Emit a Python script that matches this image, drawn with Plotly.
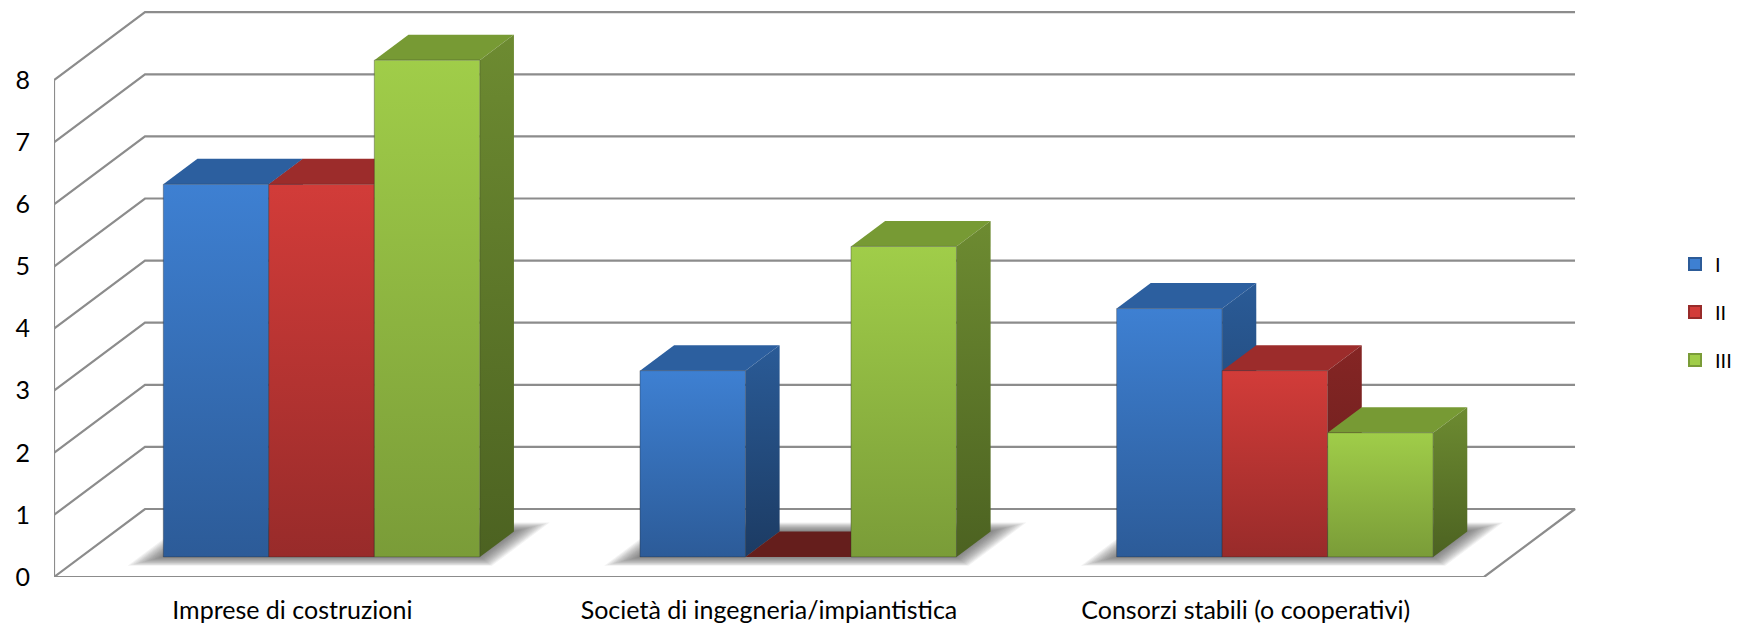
import plotly.graph_objects as go

categories = ["Imprese di costruzioni", "Società di ingegneria/impiantistica", "Consorzi stabili (o cooperativi)"]
series_names = ["I", "II", "III"]
values_I = [6, 3, 4]
values_II = [6, 0, 3]
values_III = [8, 5, 2]
y_ticks = [0, 1, 2, 3, 4, 5, 6, 7, 8]

series_values = [values_I, values_II, values_III]
FRONT = ["#3e80d2", "#d23c39", "#a0cd49"]
FRONT_LOW = ["#2c5b98", "#982b2a", "#7a9c38"]
TOP = ["#2c5f9f", "#9c2c2b", "#779a34"]
SIDE = ["#2a5b97", "#852524", "#6d8b31"]
SIDE_LOW = ["#1c3b63", "#641e1c", "#4c6221"]
ZERO_TOP = ["#1f406b", "#651e1c", "#4f6622"]
GRID = "#8c8c8c"
FONT = "Lato"

PX_X, PX_Y = 476.67, 62.1          # pixels per category / per unit
DX, DY = 91 / PX_X, 68 / PX_Y      # full-depth oblique offset, axis units
BAR_D0, BAR_D1 = 0.295, 0.67       # bar front/back depth
GROUP = 0.664
BAR_W = GROUP / 3
LEFT_PAD = (1 - GROUP) / 2 + 0.005


def proj(x, d, v):
    return x + d * DX, v + d * DY


def poly(pts):
    xs, ys = zip(*[proj(*p) for p in pts + pts[:1]])
    return list(xs), list(ys)


fig = go.Figure()


def line(pts):
    xs, ys = zip(*[proj(*p) for p in pts])
    fig.add_trace(go.Scatter(x=list(xs), y=list(ys), mode="lines", line=dict(color=GRID, width=2.2),
                             showlegend=False, hoverinfo="skip"))


def face(pts, color, low=None, outline=None):
    xs, ys = poly(pts)
    kw = dict(fillcolor=color)
    if low:
        kw = dict(fillgradient=dict(type="vertical", colorscale=[[0, low], [1, color]]))
    fig.add_trace(go.Scatter(x=xs, y=ys, mode="lines", fill="toself",
                             line=dict(color=outline or "rgba(0,0,0,0)", width=1),
                             showlegend=False, hoverinfo="skip", **kw))


# walls and floor
for t in y_ticks[1:]:
    line([(0, 0, t), (0, 1, t), (3, 1, t)])
line([(0, 0, 8), (0, 0, 0), (3, 0, 0), (3, 1, 0), (0, 1, 0), (0, 0, 0)])

# soft floor shadows
N = 14
for c in range(len(categories)):
    left = c + LEFT_PAD
    right = left + GROUP
    for k in range(N):
        e = 1 - k / (N - 1)
        ex, ed = 0.05 * e, 0.13 * e
        xs, ys = poly([(left - ex, BAR_D0 - ed, 0), (right + ex, BAR_D0 - ed, 0),
                       (right + ex, BAR_D1 + ed, 0), (left - ex, BAR_D1 + ed, 0)])
        fig.add_trace(go.Scatter(x=xs, y=ys, mode="lines", fill="toself", line=dict(width=0),
                                 fillcolor="rgba(70,70,70,0.07)", showlegend=False, hoverinfo="skip"))

# bars, painted back to front
for c in range(len(categories)):
    left = c + LEFT_PAD
    for s, vals in enumerate(series_values):
        v = vals[c]
        x0, x1 = left + s * BAR_W, left + (s + 1) * BAR_W
        top_col = TOP[s] if v > 0 else ZERO_TOP[s]
        face([(x0, BAR_D0, v), (x1, BAR_D0, v), (x1, BAR_D1, v), (x0, BAR_D1, v)], top_col)
        if v > 0:
            face([(x1, BAR_D0, 0), (x1, BAR_D1, 0), (x1, BAR_D1, v), (x1, BAR_D0, v)], SIDE[s], SIDE_LOW[s])
            face([(x0, BAR_D0, 0), (x1, BAR_D0, 0), (x1, BAR_D0, v), (x0, BAR_D0, v)], FRONT[s], FRONT_LOW[s],
                 outline="rgba(40,40,40,0.35)")

# legend
for s, name in enumerate(series_names):
    fig.add_trace(go.Scatter(x=[None], y=[None], mode="markers", name=name, legendgroup=name,
                             marker=dict(symbol="square", size=16, color=FRONT[s],
                                         line=dict(color=FRONT_LOW[s], width=2))))

fig.update_layout(
    width=1742, height=625, margin=dict(l=54, r=0, t=0, b=48, autoexpand=False),
    plot_bgcolor="white", paper_bgcolor="white",
    font=dict(family=FONT, size=25, color="black"),
    xaxis=dict(range=[0, (1742 - 54) / PX_X], tickvals=[0.5, 1.5, 2.5], ticktext=categories,
               showgrid=False, zeroline=False, showline=False, ticks="", ticklabelstandoff=16, tickangle=0),
    yaxis=dict(range=[0, 577 / PX_Y], tickvals=y_ticks, ticktext=[str(t) for t in y_ticks],
               showgrid=False, zeroline=False, showline=False, ticks="", ticklabelstandoff=23),
    legend=dict(x=(1675 - 54) / 1688, xanchor="left", y=1 - 244.5 / 577, yanchor="top",
                tracegroupgap=19, itemsizing="constant", bgcolor="rgba(0,0,0,0)", font=dict(size=20)),
)

fig.write_html("out.html", config={"displayModeBar": False}, post_script="document.body.style.margin='0';")
